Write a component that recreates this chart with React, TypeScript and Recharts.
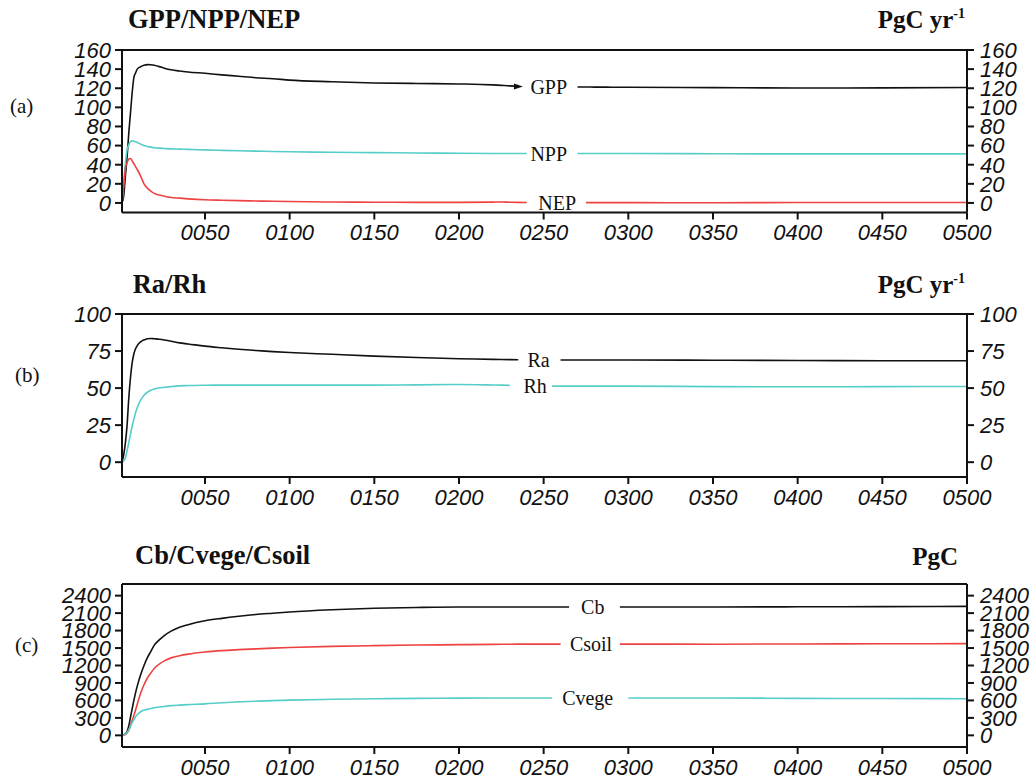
import { LineChart, Line, XAxis, YAxis, ReferenceLine, ReferenceDot } from "recharts"

const years = [
  1, 2, 3, 4, 5, 6, 7, 8, 9, 10, 12, 14, 16, 18, 20, 23, 26, 30, 35, 40, 50, 60, 70, 80, 90, 100,
  125, 150, 175, 200, 220, 225, 230, 235, 240, 245, 250, 255, 260, 265, 270, 275, 280, 285, 290,
  295, 300, 350, 400, 450, 500,
]
const xTicks = [50, 100, 150, 200, 250, 300, 350, 400, 450, 500]

// panel (a) PgC/yr
const gpp = [
  0, 7, 28, 48, 73, 94, 115, 131, 136, 140, 142.5, 144, 144.7, 144.5, 144, 142.6, 141, 139.3, 138, 137,
  135.6, 134, 132.5, 131, 130, 128.5, 126.8, 125.5, 125, 124.5, 123.5, 123, 122.5, 121.8, 121.5, 121.3,
  121.3, 121.3, 121.3, 121.3, 121.3, 121.3, 121.2, 121.2, 121.1, 121.1, 121, 120.6, 120.2, 120.4, 120.8,
]
const npp = [
  0, 20.6, 41.5, 55.4, 60.7, 64, 65, 64.6, 64, 63.3, 61.6, 60, 59, 58.4, 57.7, 57.3, 57, 56.6, 56.3, 56,
  55.5, 55, 54.6, 54.2, 53.8, 53.5, 53, 52.6, 52.3, 52, 51.8, 51.8, 51.8, 51.8, 51.8, 51.8, 51.8, 51.8,
  51.8, 51.8, 51.8, 51.8, 51.8, 51.8, 51.8, 51.8, 51.8, 51.5, 51.3, 51.3, 51.3,
]
const nep = [
  0, 17, 36, 42, 46, 46.5, 44, 41, 38, 35, 28, 20, 15.5, 12.3, 10, 8.3, 7, 5.7, 5, 4.3,
  3.3, 2.8, 2.4, 2, 1.7, 1.5, 1, 0.8, 0.6, 0.6, 0.9, 1, 0.8, 0.6, 0.5, 0.3, 0.3, 0.3,
  0.3, 0.3, 0.3, 0.3, 0.3, 0.3, 0.3, 0.3, 0.3, 0.2, 0.4, 0.4, 0.4,
]

// panel (b) PgC/yr
const ra = [
  0, 5, 13, 25, 43, 57, 67, 73, 76.5, 78.7, 81.2, 82.5, 83.3, 83.5, 83.3, 83, 82.5, 81.6, 80.5, 79.8,
  78.3, 77.2, 76.2, 75.4, 74.6, 74, 72.8, 71.6, 70.6, 69.8, 69.4, 69.3, 69.2, 69.1, 69, 69, 69, 69,
  69, 69, 69, 69, 69, 69, 69, 69, 69, 68.8, 68.6, 68.5, 68.5,
]
const rh = [
  0, 0.8, 3, 7.6, 13.2, 18.8, 24.4, 28.9, 33.4, 36.7, 41.8, 45.2, 47.2, 48.5, 49.4, 50.1, 50.5, 51, 51.5, 51.7,
  51.9, 52, 52, 52, 52, 52, 52, 52, 52.2, 52.4, 52.1, 52, 51.8, 51.3, 51.3, 51.3, 51.3, 51.3,
  51.3, 51.3, 51.3, 51.3, 51.3, 51.3, 51.3, 51.3, 51.3, 51, 50.9, 51, 51.1,
]

// panel (c) PgC
const cb = [
  0, 5, 25, 65, 160, 310, 455, 600, 730, 845, 1040, 1200, 1335, 1440, 1545, 1640, 1715, 1790, 1855, 1900,
  1968, 2010, 2045, 2075, 2098, 2120, 2158, 2183, 2197, 2205, 2205, 2205, 2205, 2205, 2205, 2205, 2205, 2205,
  2205, 2205, 2205, 2205, 2205, 2205, 2205, 2205, 2205, 2205, 2208, 2212, 2215,
]
const csoil = [
  0, 3, 12, 40, 85, 165, 255, 340, 435, 535, 725, 870, 985, 1070, 1150, 1225, 1280, 1331, 1368, 1395,
  1432, 1456, 1472, 1486, 1498, 1508, 1528, 1542, 1551, 1558, 1563, 1565, 1566, 1567, 1567, 1567, 1567, 1567,
  1567, 1567, 1567, 1567, 1567, 1567, 1567, 1567, 1567, 1566, 1570, 1573, 1575,
]
const cvege = [
  0, 5, 20, 50, 95, 155, 215, 272, 320, 355, 405, 432, 450, 462, 474, 486, 497, 510, 520, 528,
  541, 561, 575, 587, 597, 605, 619, 628, 635, 639, 641, 641, 641, 641, 641, 641, 641, 641,
  641, 641, 641, 641, 641, 641, 641, 641, 641, 642, 636, 632, 630,
]

const BLACK = "#111111"
const CYAN = "#55cdc8"
const RED = "#ee4242"

type Series = { key: string; name: string; values: number[]; color: string; gap: [number, number]; at: number; level: number }

const panelA: Series[] = [
  { key: "gpp", name: "GPP", values: gpp, color: BLACK, gap: [235, 270], at: 253, level: 121.3 },
  { key: "npp", name: "NPP", values: npp, color: CYAN, gap: [240, 270], at: 253, level: 51.8 },
  { key: "nep", name: "NEP", values: nep, color: RED, gap: [240, 275], at: 258, level: 0.3 },
]
const panelB: Series[] = [
  { key: "ra", name: "Ra", values: ra, color: BLACK, gap: [235, 260], at: 247, level: 69 },
  { key: "rh", name: "Rh", values: rh, color: CYAN, gap: [230, 255], at: 245, level: 51.3 },
]
const panelC: Series[] = [
  { key: "cb", name: "Cb", values: cb, color: BLACK, gap: [265, 295], at: 279, level: 2205 },
  { key: "csoil", name: "Csoil", values: csoil, color: RED, gap: [260, 295], at: 278, level: 1567 },
  { key: "cvege", name: "Cvege", values: cvege, color: CYAN, gap: [255, 300], at: 276, level: 641 },
]

// arrowhead at the end of the GPP segment before its label
const gppArrow = { year: 236, value: 121.7 }

const buildRows = (series: Series[]) =>
  years.map((year, i) => {
    const row: Record<string, number | null> = { year }
    series.forEach((s) => {
      row[s.key] = year > s.gap[0] && year < s.gap[1] ? null : s.values[i]
    })
    return row
  })

const tickFont = { fontSize: 22, fontStyle: "italic", fill: BLACK, fontFamily: "'Liberation Sans', Arial, sans-serif" }
const axisStroke = { stroke: BLACK, strokeWidth: 2 }

const Arrow = (p: { cx?: number; cy?: number }) =>
  p.cx == null || p.cy == null ? null : (
    <path d={`M${p.cx + 3},${p.cy} L${p.cx - 6},${p.cy - 3} L${p.cx - 6},${p.cy + 3} Z`} fill={BLACK} />
  )

function Panel(props: {
  series: Series[]
  top: number
  height: number
  marginTop: number
  xHeight: number
  domain: [number, number]
  ticks: number[]
  arrow?: { year: number; value: number }
}) {
  const { series, top, height, marginTop, xHeight, domain, ticks, arrow } = props
  const rows = buildRows(series)
  return (
    <div style={{ position: "absolute", left: 0, top }}>
      <LineChart width={1035} height={height} data={rows} margin={{ top: marginTop, right: 0, bottom: 0, left: 0 }}>
        <XAxis
          dataKey="year"
          type="number"
          domain={[1, 500]}
          ticks={xTicks}
          interval={0}
          allowDataOverflow
          height={xHeight}
          tickSize={7}
          tickMargin={5}
          tick={tickFont}
          axisLine={axisStroke}
          tickLine={axisStroke}
          tickFormatter={(v: number) => String(v).padStart(4, "0")}
        />
        <YAxis
          domain={domain}
          ticks={ticks}
          interval={0}
          allowDataOverflow
          width={122}
          tickSize={7}
          tickMargin={4}
          tick={tickFont}
          axisLine={axisStroke}
          tickLine={axisStroke}
        />
        <YAxis
          yAxisId="right"
          orientation="right"
          domain={domain}
          ticks={ticks}
          interval={0}
          allowDataOverflow
          width={68}
          tickSize={7}
          tickMargin={6}
          tick={{ ...tickFont, textAnchor: "start" }}
          axisLine={axisStroke}
          tickLine={axisStroke}
        />
        <ReferenceLine y={domain[1]} stroke={BLACK} strokeWidth={2} />
        {series.map((s) => (
          <Line
            key={s.key}
            dataKey={s.key}
            type="monotone"
            stroke={s.color}
            strokeWidth={1.6}
            dot={false}
            connectNulls={false}
            isAnimationActive={false}
          />
        ))}
        {series.map((s) => (
          <ReferenceDot
            key={s.key + "-label"}
            x={s.at}
            y={s.level}
            r={0}
            fill="none"
            stroke="none"
            label={{
              value: s.name,
              position: "center",
              fill: BLACK,
              fontSize: 20,
              fontFamily: "'Liberation Serif', 'Times New Roman', serif",
            }}
          />
        ))}
        {arrow && <ReferenceDot x={arrow.year} y={arrow.value} r={3} shape={Arrow} />}
      </LineChart>
    </div>
  )
}

const serif = "'Liberation Serif', 'Times New Roman', serif"

export default function App() {
  return (
    <div style={{ position: "absolute", left: 0, top: 0, width: 1035, height: 780, background: "#fff" }}>
      <Panel series={panelA} top={0} height={250} marginTop={50} xHeight={37.5} domain={[-10, 160]} ticks={[0, 20, 40, 60, 80, 100, 120, 140, 160]} arrow={gppArrow} />
      <Panel series={panelB} top={260} height={250} marginTop={54} xHeight={33} domain={[-10, 100]} ticks={[0, 25, 50, 75, 100]} />
      <Panel series={panelC} top={520} height={260} marginTop={64} xHeight={33} domain={[-200, 2600]} ticks={[0, 300, 600, 900, 1200, 1500, 1800, 2100, 2400]} />
      <svg width={1035} height={780} style={{ position: "absolute", left: 0, top: 0, pointerEvents: "none" }} fontFamily={serif} fill={BLACK}>
        <text x={128} y={27.5} fontSize={26.5} fontWeight="bold">GPP/NPP/NEP</text>
        <text x={965} y={27.5} fontSize={25} fontWeight="bold" textAnchor="end">
          PgC yr<tspan dy={-10} fontSize={14}>-1</tspan>
        </text>
        <text x={132.7} y={293} fontSize={26.5} fontWeight="bold">Ra/Rh</text>
        <text x={965} y={293} fontSize={25} fontWeight="bold" textAnchor="end">
          PgC yr<tspan dy={-10} fontSize={14}>-1</tspan>
        </text>
        <text x={135} y={564} fontSize={26.5} fontWeight="bold">Cb/Cvege/Csoil</text>
        <text x={958} y={565} fontSize={25} fontWeight="bold" textAnchor="end">PgC</text>
        <text x={10} y={113} fontSize={21}>(a)</text>
        <text x={15} y={382} fontSize={21}>(b)</text>
        <text x={15} y={652} fontSize={21}>(c)</text>
      </svg>
    </div>
  )
}
